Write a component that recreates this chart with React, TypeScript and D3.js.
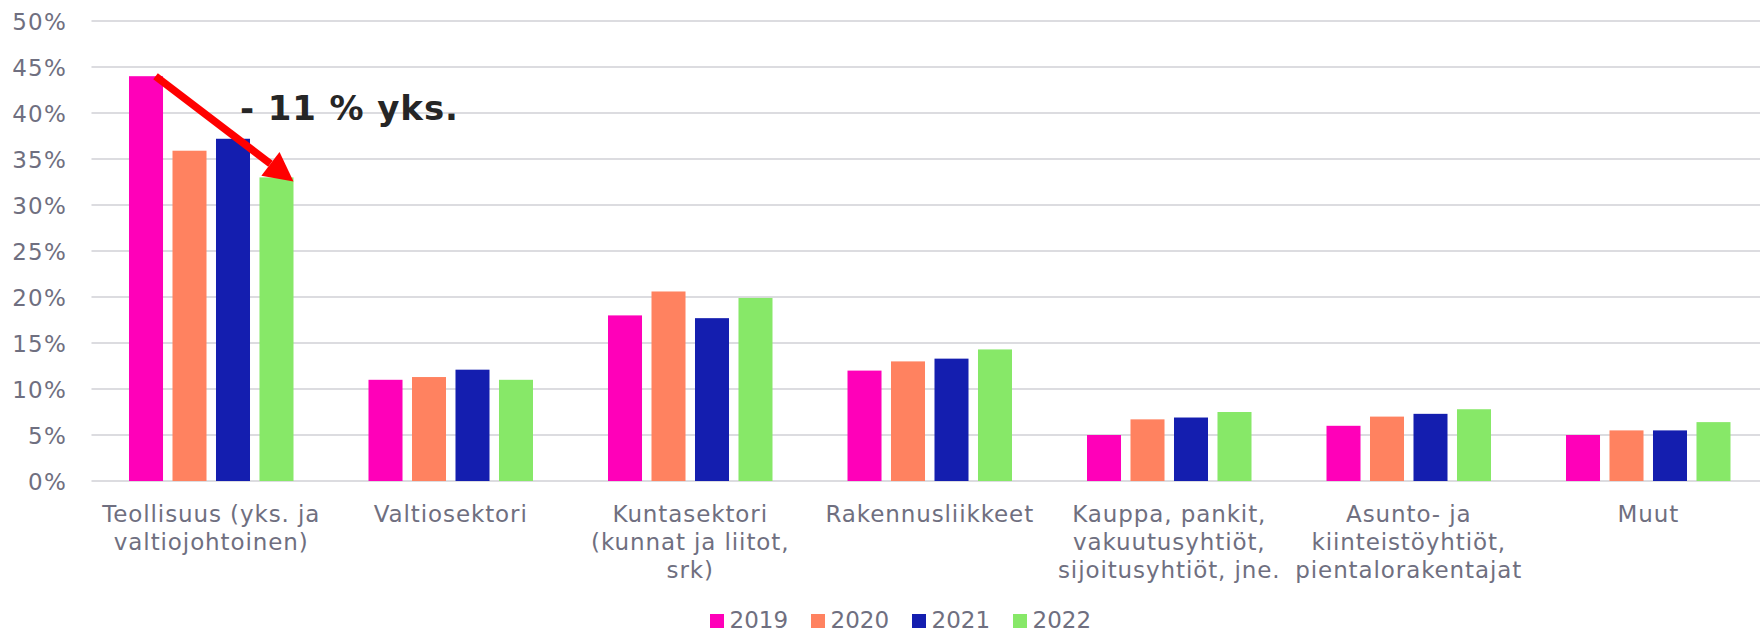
import React from "react";
import * as d3 from "d3";

const categories: string[][] = [
  ["Teollisuus (yks. ja", "valtiojohtoinen)"],
  ["Valtiosektori"],
  ["Kuntasektori", "(kunnat ja liitot,", "srk)"],
  ["Rakennusliikkeet"],
  ["Kauppa, pankit,", "vakuutusyhtiöt,", "sijoitusyhtiöt, jne."],
  ["Asunto- ja", "kiinteistöyhtiöt,", "pientalorakentajat"],
  ["Muut"],
];
const years = ["2019", "2020", "2021", "2022"];
const v2019 = [44.0, 11.0, 18.0, 12.0, 5.0, 6.0, 5.0];
const v2020 = [35.9, 11.3, 20.6, 13.0, 6.7, 7.0, 5.5];
const v2021 = [37.2, 12.1, 17.7, 13.3, 6.9, 7.3, 5.5];
const v2022 = [33.0, 11.0, 19.9, 14.3, 7.5, 7.8, 6.4];
const seriesValues = [v2019, v2020, v2021, v2022];
const colors = ["#FF00B9", "#FF8260", "#141EAF", "#87E868"];
const yTicks = [0, 5, 10, 15, 20, 25, 30, 35, 40, 45, 50];
const annotation = "- 11 % yks.";

const W = 1760;
const H = 634;
const FONT = "'DejaVu Sans', Verdana, sans-serif";
const TEXT = "#6F6F80";

export default function App() {
  const keys = categories.map((_, i) => String(i));
  const x0 = d3.scaleBand<string>().domain(keys).range([91.5, 1768]).paddingInner(0).paddingOuter(0);
  const groupW = 164.5;
  const off = (x0.bandwidth() - groupW) / 2;
  const x1 = d3.scaleBand<string>().domain(years).range([0, groupW]).paddingInner(0.218);
  const y = d3.scaleLinear().domain([0, 50]).range([481, 21]);

  const bw = x1.bandwidth();
  const ax0 = (x0("0") as number) + off + (x1("2019") as number) + bw * 0.78;
  const ay0 = y(v2019[0]);
  const ax1 = (x0("0") as number) + off + (x1("2022") as number) + bw;
  const ay1 = y(v2022[0]) + 4;
  const ang = Math.atan2(ay1 - ay0, ax1 - ax0);
  const headLen = 29;
  const headHalf = 15;
  const bx = ax1 - headLen * Math.cos(ang);
  const by = ay1 - headLen * Math.sin(ang);
  const px = -Math.sin(ang);
  const py = Math.cos(ang);
  const headPts = [
    [ax1, ay1],
    [bx + px * headHalf, by + py * headHalf],
    [bx - px * headHalf, by - py * headHalf],
  ]
    .map((p) => p.join(","))
    .join(" ");

  return (
    <svg width={W} height={H} style={{ display: "block", position: "absolute", left: 0, top: 0 }} fontFamily={FONT}>
      <rect width={W} height={H} fill="#fff" />
      {yTicks.map((t) => (
        <g key={t}>
          <line x1={91.5} x2={W} y1={y(t)} y2={y(t)} stroke="#DCDCE0" strokeWidth={2} />
          <text x={67} y={y(t) + 1} textAnchor="end" dominantBaseline="central" fontSize={23} letterSpacing={1.2} fill={TEXT}>
            {t}%
          </text>
        </g>
      ))}
      {seriesValues.map((vals, si) =>
        vals.map((v, ci) => (
          <rect
            key={`${si}-${ci}`}
            x={(x0(String(ci)) as number) + off + (x1(years[si]) as number)}
            y={y(v)}
            width={bw}
            height={y(0) - y(v)}
            fill={colors[si]}
          />
        ))
      )}
      {categories.map((lines, ci) => (
        <text
          key={ci}
          x={(x0(String(ci)) as number) + x0.bandwidth() / 2}
          y={521.7}
          textAnchor="middle"
          fontSize={23}
          letterSpacing={0.9}
          fill={TEXT}
        >
          {lines.map((l, li) => (
            <tspan key={li} x={(x0(String(ci)) as number) + x0.bandwidth() / 2} dy={li === 0 ? 0 : 28.3}>
              {l}
            </tspan>
          ))}
        </text>
      ))}
      <line x1={ax0} y1={ay0} x2={bx} y2={by} stroke="#FF0000" strokeWidth={7.5} />
      <polygon points={headPts} fill="#FF0000" />
      <text x={240} y={120} fontSize={34} fontWeight="bold" letterSpacing={0.9} fill="#262626">
        {annotation}
      </text>
      {years.map((yr, i) => (
        <g key={yr} transform={`translate(${710 + i * 101},0)`}>
          <rect x={0} y={614} width={14} height={14} fill={colors[i]} />
          <text x={19.5} y={628} fontSize={23} fill={TEXT}>
            {yr}
          </text>
        </g>
      ))}
    </svg>
  );
}
